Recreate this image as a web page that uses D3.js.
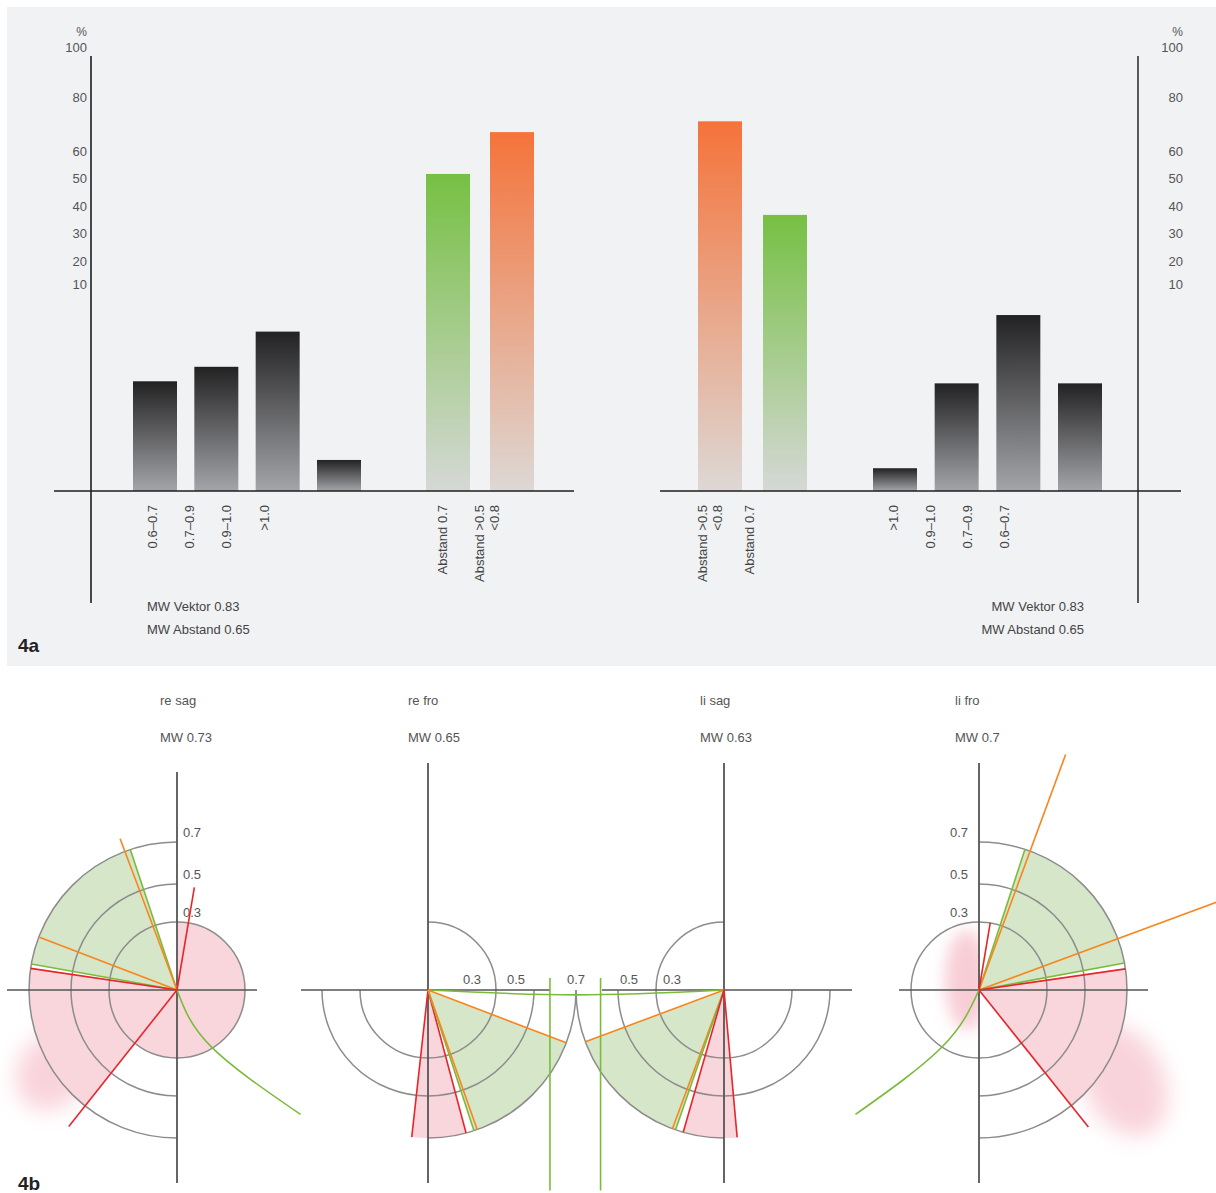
<!DOCTYPE html>
<html><head><meta charset="utf-8">
<script src="https://cdn.jsdelivr.net/npm/d3@7"></script>
<style>
body{margin:0;background:#fff;}
svg{display:block;font-family:"Liberation Sans",Arial,sans-serif;}
</style>
</head><body>
<svg id="c" width="1216" height="1193"></svg>
<script>
// ===== Fig 4a: bar data =====
const yTicks = [10, 20, 30, 40, 50, 60, 80, 100];
const yBreaks = [0, 10, 20, 30, 40, 50, 60, 80, 100];
const leftVektorCats = ["0.6–0.7", "0.7–0.9", "0.9–1.0", ">1.0"];
const leftVektorVals = [5.3, 6.0, 7.7, 1.5];
const leftAbstandCats = ["Abstand 0.7", "Abstand >0.5 <0.8"];
const leftAbstandVals = [51.5, 67];
const rightAbstandCats = ["Abstand >0.5 <0.8", "Abstand 0.7"];
const rightAbstandVals = [71, 36.7];
const rightVektorCats = [">1.0", "0.9–1.0", "0.7–0.9", "0.6–0.7"];
const rightVektorVals = [1.1, 5.2, 8.5, 5.2];
const mwTexts = ["MW Vektor 0.83", "MW Abstand 0.65"];

// ===== Fig 4b: polar data (angles in degrees, 0 = right, counter-clockwise) =====
const polarNames = ["re sag", "re fro", "li sag", "li fro"];
const polarMW = ["MW 0.73", "MW 0.65", "MW 0.63", "MW 0.7"];
const ringValues = [0.3, 0.5, 0.7];
const ringSpans = [
  [[0, 360], [90, 270], [90, 270]],
  [[-180, 90], [-180, 0], [-90, 0]],
  [[90, 360], [180, 360], [180, 270]],
  [[0, 360], [-90, 90], [-90, 90]]
];
const greenSectors = [[108.4, 169.9], [-71.9, -20.9], [200.5, 250.9], [10.5, 71.9]];
const pinkSectors = [[171.6, 231.6], [-96.3, -75.1], [254, 275.1], [-51.4, 8.2]];
const pinkInner = [[-188.4, 90, 0.3]];           // chart 0 only
const rays = [
  [[108.4, 0.7, "green"], [169.9, 0.7, "green"], [110.6, 0.765, "orange"], [159, 0.7, "orange"],
   [171.6, 0.7, "red"], [80.4, 0.49, "red"], [231.6, 0.825, "red"]],
  [[-96.3, 0.7, "red"], [-75.1, 0.7, "red"], [-71.9, 0.7, "green"], [-70.6, 0.7, "orange"], [-20.9, 0.7, "orange"]],
  [[200.5, 0.7, "orange"], [249.6, 0.7, "orange"], [250.9, 0.7, "green"], [254, 0.7, "red"], [275.1, 0.7, "red"]],
  [[71.9, 0.7, "green"], [69.8, 1.19, "orange"], [20.3, 1.25, "orange"], [10.5, 0.7, "green"],
   [8.2, 0.7, "red"], [80.5, 0.3, "red"], [-51.4, 0.83, "red"]]
];
const greenCurves = [
  {chart: 0, pts: [[0, 0], [-59, 0.29], [-45.2, 0.83]]},
  {chart: 3, pts: [[0, 0], [237, 0.3], [225.2, 0.83]]},
  {chart: 1, pts: [[0, 0], [-1.9, 0.7], [0, 1.405]]}
];
const greenVerticals = [{chart: 1, x: 0.576, y1: 0.053, y2: -0.95}, {chart: 2, x: -0.583, y1: 0.053, y2: -0.95}];
const pinkBlobs = [{chart: 0, a: 213, v: 0.7}, {chart: 3, a: -32, v: 0.81}, {chart: 3, a: 140, v: 0.069}];

// ===== layout =====
const svg = d3.select("#c");
const defs = svg.append("defs");
svg.append("rect").attr("x", 7).attr("y", 7).attr("width", 1209).attr("height", 659).attr("fill", "#f1f2f4");

function grad(id, top, bottom) {
  const g = defs.append("linearGradient").attr("id", id).attr("x1", 0).attr("y1", 0).attr("x2", 0).attr("y2", 1);
  g.append("stop").attr("offset", 0).attr("stop-color", top);
  g.append("stop").attr("offset", 1).attr("stop-color", bottom);
}
grad("gDark", "#222223", "#a4a5a9");
grad("gGreen", "#76c043", "#d5d8d6");
grad("gOrange", "#f5733a", "#ddd8d5");

const baseY = 491;
const y = d3.scaleLinear().domain(yBreaks).range([baseY, 284, 261, 233, 206, 178, 151, 97, 47]);

const groups = [
  {cats: leftVektorCats, vals: leftVektorVals, bars: [133, 361], labels: [152, 264], fill: () => "url(#gDark)"},
  {cats: leftAbstandCats, vals: leftAbstandVals, bars: [426, 534], labels: [442, 486.5], fill: i => i === 0 ? "url(#gGreen)" : "url(#gOrange)"},
  {cats: rightAbstandCats, vals: rightAbstandVals, bars: [698, 807], labels: [709.5, 749], fill: i => i === 0 ? "url(#gOrange)" : "url(#gGreen)"},
  {cats: rightVektorCats, vals: rightVektorVals, bars: [873, 1102], labels: [893, 1004], fill: () => "url(#gDark)"}
];
const barW = 44;
groups.forEach(g => {
  const n = g.cats.length;
  const k = (g.bars[1] - g.bars[0]) / barW;
  const p = (k - n) / (k - 1);
  const x = d3.scaleBand().domain(d3.range(n)).range(g.bars).paddingInner(p).paddingOuter(0);
  const lx = d3.scalePoint().domain(d3.range(n)).range(g.labels);
  svg.append("g").selectAll("rect").data(g.vals).join("rect")
    .attr("x", (d, i) => x(i)).attr("width", x.bandwidth())
    .attr("y", d => y(d)).attr("height", d => baseY - y(d))
    .attr("fill", (d, i) => g.fill(i));
  const t = svg.append("g").selectAll("text").data(g.cats).join("text")
    .attr("transform", (d, i) => `translate(${lx(i)},505) rotate(-90)`)
    .attr("text-anchor", "end").attr("font-size", 13).attr("fill", "#444");
  t.each(function(d) {
    const lines = d.split(" <");
    const parts = lines.length > 1 ? [lines[0], "<" + lines[1]] : lines;
    const sel = d3.select(this);
    parts.forEach((s, j) => {
      sel.append("tspan").attr("x", 0).attr("y", (j - (parts.length - 1) / 2) * 15).attr("dy", "0.35em").text(s);
    });
  });
});

// axes
function yAxisAt(xText) {
  const g = svg.append("g").attr("transform", `translate(${xText + 4},0)`)
    .call(d3.axisLeft(y).tickValues(yTicks).tickSize(0).tickPadding(4));
  g.select(".domain").remove();
  g.selectAll("text").attr("font-size", 13).attr("fill", "#555").attr("font-family", "Liberation Sans, Arial, sans-serif");
  svg.append("text").attr("x", xText).attr("y", 36).attr("text-anchor", "end").attr("font-size", 12).attr("fill", "#555").text("%");
}
yAxisAt(87);
yAxisAt(1183);
svg.append("line").attr("x1", 91).attr("x2", 91).attr("y1", 56).attr("y2", 603).attr("stroke", "#1e1e1e").attr("stroke-width", 1.6);
svg.append("line").attr("x1", 1138).attr("x2", 1138).attr("y1", 56).attr("y2", 603).attr("stroke", "#5a5a5e").attr("stroke-width", 2);
svg.append("line").attr("x1", 54).attr("x2", 574).attr("y1", baseY).attr("y2", baseY).attr("stroke", "#1e1e1e").attr("stroke-width", 1.6);
svg.append("line").attr("x1", 660).attr("x2", 1181).attr("y1", baseY).attr("y2", baseY).attr("stroke", "#1e1e1e").attr("stroke-width", 1.6);

mwTexts.forEach((s, i) => {
  svg.append("text").attr("x", 147).attr("y", 611 + i * 23).attr("font-size", 13).attr("fill", "#444").text(s);
  svg.append("text").attr("x", 1084).attr("y", 611 + i * 23).attr("text-anchor", "end").attr("font-size", 13).attr("fill", "#444").text(s);
});
svg.append("text").attr("x", 18).attr("y", 652).attr("font-size", 19).attr("font-weight", "bold")
  .attr("font-family", "Liberation Sans Narrow, Liberation Sans, Arial, sans-serif").attr("fill", "#222").text("4a");

// ===== Fig 4b =====
const cxs = [177, 428, 724, 979];
const cy = 990;
const axisV = [[772, 1183], [763, 1183], [763, 1183], [763, 1183]];
const axisH = [[7, 257], [301, 550], [602, 852], [899, 1148]];
const titleX = [160, 408, 700, 955];
const rScale = d3.scaleLinear().domain([-0.7, -0.5, -0.3, 0, 0.3, 0.5, 0.7]).range([-148, -106, -68, 0, 68, 106, 148]);
const rad = a => a * Math.PI / 180;
const polar = (ci, a, v) => [cxs[ci] + rScale(v) * Math.cos(rad(a)), cy - rScale(v) * Math.sin(rad(a))];
const cart = (ci, vx, vy) => [cxs[ci] + rScale(vx), cy - rScale(vy)];
const toD3 = a => rad(90 - a);
const colors = {green: "#7bbb3b", orange: "#f7861e", red: "#e5262b"};

const blur = defs.append("filter").attr("id", "blur").attr("x", "-100%").attr("y", "-100%").attr("width", "300%").attr("height", "300%");
blur.append("feGaussianBlur").attr("stdDeviation", 11);
const blur2 = defs.append("filter").attr("id", "blur2").attr("x", "-100%").attr("y", "-100%").attr("width", "300%").attr("height", "300%");
blur2.append("feGaussianBlur").attr("stdDeviation", 8);
defs.append("clipPath").attr("id", "leftHalf3").append("rect")
  .attr("x", cxs[3] - 100).attr("y", cy - 150).attr("width", 101).attr("height", 300);

const bottom = svg.append("g");

// titles
polarNames.forEach((n, i) => {
  bottom.append("text").attr("x", titleX[i]).attr("y", 705).attr("font-size", 13).attr("fill", "#555").text(n);
  bottom.append("text").attr("x", titleX[i]).attr("y", 742).attr("font-size", 13).attr("fill", "#555").text(polarMW[i]);
});

// blobs
pinkBlobs.forEach((b, i) => {
  const [px, py] = polar(b.chart, b.a, b.v);
  const e = bottom.append("ellipse").attr("cx", px).attr("cy", py)
    .attr("fill", "#f9d3db");
  if (i === 0) e.attr("rx", 34).attr("ry", 42).attr("filter", "url(#blur)").attr("transform", `rotate(35,${px},${py})`);
  if (i === 1) e.attr("rx", 40).attr("ry", 58).attr("filter", "url(#blur)").attr("transform", `rotate(-25,${px},${py})`);
  if (i === 2) {
    e.attr("rx", 22).attr("ry", 50).attr("filter", "url(#blur2)").attr("fill", "#f8cdd6");
    bottom.append("g").attr("clip-path", "url(#leftHalf3)").node().appendChild(e.node());
  }
});

const sectorArc = (a1, a2, v) => d3.arc().innerRadius(0).outerRadius(rScale(v)).startAngle(toD3(a2)).endAngle(toD3(a1))();

// fills
pinkSectors.forEach((s, i) => {
  bottom.append("path").attr("transform", `translate(${cxs[i]},${cy})`).attr("d", sectorArc(s[0], s[1], 0.7)).attr("fill", "#f9d5dc");
});
pinkInner.forEach(s => {
  bottom.append("path").attr("transform", `translate(${cxs[0]},${cy})`).attr("d", sectorArc(s[0], s[1], s[2])).attr("fill", "#f9d5dc");
});
greenSectors.forEach((s, i) => {
  bottom.append("path").attr("transform", `translate(${cxs[i]},${cy})`).attr("d", sectorArc(s[0], s[1], 0.7)).attr("fill", "#d6e6c8");
});

// rings
ringSpans.forEach((spans, i) => {
  spans.forEach((sp, j) => {
    const r = rScale(ringValues[j]);
    const p = d3.path();
    const [sx, sy] = polar(i, sp[0], ringValues[j]);
    p.moveTo(sx, sy);
    p.arc(cxs[i], cy, r, -rad(sp[0]), -rad(sp[1]), true);
    bottom.append("path").attr("d", p.toString()).attr("fill", "none").attr("stroke", "#8c8c8c").attr("stroke-width", 1.5);
  });
});

// axes
cxs.forEach((cx, i) => {
  bottom.append("line").attr("x1", cx).attr("x2", cx).attr("y1", axisV[i][0]).attr("y2", axisV[i][1]).attr("stroke", "#555").attr("stroke-width", 1.8);
  bottom.append("line").attr("x1", axisH[i][0]).attr("x2", axisH[i][1]).attr("y1", cy).attr("y2", cy).attr("stroke", "#555").attr("stroke-width", 1.6);
});

// ring labels
ringValues.forEach(v => {
  bottom.append("text").attr("x", cxs[0] + 6).attr("y", cy - rScale(v) - 10).attr("dy", "0.35em").attr("font-size", 13).attr("fill", "#555").text(v);
  bottom.append("text").attr("x", cxs[3] - 11).attr("y", cy - rScale(v) - 10).attr("dy", "0.35em").attr("text-anchor", "end").attr("font-size", 13).attr("fill", "#555").text(v);
});
const offR = {0.3: 24, 0.5: 18, 0.7: 0};
ringValues.forEach(v => {
  bottom.append("text").attr("x", cxs[1] + rScale(v) - offR[v]).attr("y", 979).attr("dy", "0.35em").attr("text-anchor", "middle").attr("font-size", 13).attr("fill", "#555").text(v);
});
const offL = {0.3: 16, 0.5: 11};
[0.3, 0.5].forEach(v => {
  bottom.append("text").attr("x", cxs[2] - rScale(v) + offL[v]).attr("y", 979).attr("dy", "0.35em").attr("text-anchor", "middle").attr("font-size", 13).attr("fill", "#555").text(v);
});

// green curves and verticals
greenCurves.forEach(c => {
  const pts = c.pts.map(p => polar(c.chart, p[0], p[1]));
  bottom.append("path").attr("d", d3.line().curve(d3.curveNatural)(pts)).attr("fill", "none").attr("stroke", colors.green).attr("stroke-width", 1.6);
});
greenVerticals.forEach(g => {
  const [x1, y1] = cart(g.chart, g.x, g.y1);
  const [x2, y2] = cart(g.chart, g.x, g.y2);
  bottom.append("line").attr("x1", x1).attr("x2", x2).attr("y1", y1).attr("y2", y2).attr("stroke", colors.green).attr("stroke-width", 1.6);
});

// rays
rays.forEach((list, i) => {
  list.forEach(r => {
    const [x2, y2] = polar(i, r[0], r[1]);
    bottom.append("line").attr("x1", cxs[i]).attr("y1", cy).attr("x2", x2).attr("y2", y2).attr("stroke", colors[r[2]]).attr("stroke-width", 1.6);
  });
});

svg.append("text").attr("x", 18).attr("y", 1190).attr("font-size", 19).attr("font-weight", "bold")
  .attr("font-family", "Liberation Sans Narrow, Liberation Sans, Arial, sans-serif").attr("fill", "#222").text("4b");
</script>
</body></html>
